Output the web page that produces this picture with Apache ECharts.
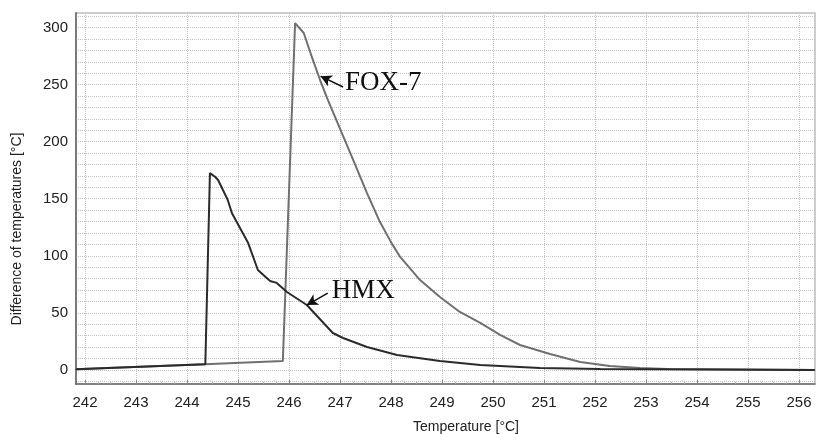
<!DOCTYPE html>
<html>
<head>
    <meta charset="utf-8">
    <title>DTA HMX / FOX-7</title>
    <script src="https://cdn.jsdelivr.net/npm/echarts@6/dist/echarts.min.js"></script>
</head>
<body style="margin:0">
    <div id="main" style="width: 819px;height:434px;"></div>
    <script type="text/javascript">

    // temperature [°C] and difference of temperatures [°C]
    var hmxTemp = [241.82, 244.36, 244.45, 244.55, 244.61, 244.8, 244.88, 245.2, 245.39, 245.63, 245.76, 245.96, 246.35, 246.86, 247.06, 247.53, 248.12, 248.96, 249.75, 250.92, 252.1, 256.31];
    var hmxDiff = [0.6, 5.0, 172.5, 169.3, 166.4, 148.9, 137.5, 111.2, 87.6, 78, 76.3, 68.3, 56.9, 32.4, 28, 20.1, 13.1, 7.9, 4.4, 1.8, 0.9, 0];

    var foxTemp = [241.82, 244.35, 245.88, 246.12, 246.29, 246.45, 246.61, 246.75, 247.06, 247.25, 247.53, 247.78, 248.0, 248.18, 248.57, 248.96, 249.35, 249.75, 250.14, 250.53, 251.12, 251.71, 252.29, 252.88, 253.41, 256.31];
    var foxDiff = [0.6, 5.0, 7.9, 303.9, 295.2, 274, 254, 238, 205, 185, 155, 130, 112, 99, 78.8, 63.9, 50.8, 41.2, 30.7, 21.9, 14.0, 7.0, 3.5, 1.8, 0.9, 0];

    // annotations: [text x, text y], arrow from -> to (data coords)
    var foxLabel = [247.1, 251.4];
    var foxArrow = [[247.06, 247.9], [246.62, 257.4]];
    var hmxLabel = [246.84, 69.2];
    var hmxArrow = [[246.76, 67.4], [246.35, 56.9]];

    var xMin = 241.824, xMax = 256.314;

    function pairs(xs, ys) {
        var out = [];
        for (var i = 0; i < xs.length; i++) out.push([xs[i], ys[i]]);
        return out;
    }

    function note(label, arrow, text) {
        return {
            markLine: {
                silent: true,
                symbol: ['none', 'arrow'],
                symbolSize: [9, 11],
                lineStyle: {color: '#111', width: 1.5, type: 'solid'},
                label: {show: false},
                data: [[{coord: arrow[0]}, {coord: arrow[1]}]]
            },
            markPoint: {
                silent: true,
                symbol: 'circle',
                symbolSize: 0,
                label: {
                    show: true, position: 'right', distance: 0,
                    formatter: text, color: '#111',
                    fontFamily: 'Liberation Serif', fontSize: 27
                },
                data: [{coord: label}]
            }
        };
    }

    var chart = echarts.init(document.getElementById('main'));

    var hmx = {
        type: 'line', name: 'HMX', xAxisIndex: 1, yAxisIndex: 1,
        showSymbol: false, symbol: 'none',
        lineStyle: {color: '#2b2b2b', width: 2},
        data: pairs(hmxTemp, hmxDiff)
    };
    Object.assign(hmx, note(hmxLabel, hmxArrow, 'HMX'));

    var fox = {
        type: 'line', name: 'FOX-7', xAxisIndex: 1, yAxisIndex: 1,
        showSymbol: false, symbol: 'none',
        lineStyle: {color: '#707070', width: 2},
        data: pairs(foxTemp, foxDiff)
    };
    Object.assign(fox, note(foxLabel, foxArrow, 'FOX-7'));

    var option = {
        animation: false,
        backgroundColor: '#fff',
        textStyle: {fontFamily: 'Liberation Sans'},
        grid: [
            // frame
            {left: 76, right: 4, top: 13, bottom: 50, show: true, borderColor: '#bdbdbd', borderWidth: 1.5},
            // data + horizontal grid lines
            {left: 76, right: 4, top: 16.1, bottom: 52.6},
            // vertical grid lines + x labels
            {left: 85, right: 20, top: 13, bottom: 50}
        ],
        xAxis: [
            {gridIndex: 0, type: 'value', min: 0, max: 1, axisLabel: {show: false},
             axisTick: {show: false}, splitLine: {show: false},
             axisLine: {show: true, lineStyle: {color: '#6a6a6a', width: 1.5}}},
            {gridIndex: 1, type: 'value', min: xMin, max: xMax, show: false},
            {gridIndex: 2, type: 'value', min: 242, max: 256, interval: 1,
             axisLine: {show: false},
             axisTick: {show: true, inside: true, length: 4, lineStyle: {color: '#888'}},
             minorTick: {show: true, splitNumber: 4, length: 2, lineStyle: {color: '#aaa'}},
             axisLabel: {color: '#222', fontSize: 15, margin: 11},
             splitLine: {show: true, lineStyle: {color: '#c4c4c4', type: 'dotted', width: 1}}}
        ],
        yAxis: [
            {gridIndex: 0, type: 'value', min: 0, max: 1, axisLabel: {show: false},
             axisTick: {show: false}, splitLine: {show: false},
             axisLine: {show: true, lineStyle: {color: '#7a7a7a', width: 2}}},
            {gridIndex: 1, type: 'value', min: -10, max: 310, interval: 10,
             axisLine: {show: false}, axisTick: {show: false},
             axisLabel: {color: '#222', fontSize: 15, margin: 8,
                 formatter: function (v) { return (v >= 0 && v % 50 === 0) ? String(v) : ''; }},
             splitLine: {show: true, lineStyle: {color: '#c4c4c4', type: 'dotted', width: 1}}},
            {gridIndex: 2, type: 'value', min: 0, max: 1, show: false}
        ],
        graphic: [
            {type: 'text', x: 466, y: 427,
             style: {text: 'Temperature [°C]', fontFamily: 'Liberation Sans', fontSize: 14,
                     fill: '#222', align: 'center', verticalAlign: 'middle'}},
            {type: 'text', x: 17, y: 229, rotation: Math.PI / 2,
             style: {text: 'Difference of temperatures [°C]', fontFamily: 'Liberation Sans', fontSize: 14,
                     fill: '#222', align: 'center', verticalAlign: 'middle'}}
        ],
        series: [fox, hmx]
    };

    chart.setOption(option);
    </script>
</body>
</html>
